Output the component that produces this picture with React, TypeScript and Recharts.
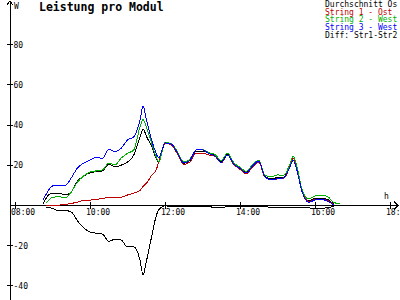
import { LineChart, Line, XAxis, YAxis, ReferenceLine, ReferenceDot } from 'recharts';

// sample times (HH:MM)
const times = [
  '08:45', '08:50', '09:00', '09:10', '09:20', '09:30', '09:40', '09:50',
  '10:00', '10:10', '10:20', '10:30', '10:40', '10:50', '11:00', '11:10',
  '11:20', '11:25', '11:30', '11:40', '11:45', '11:50', '12:00', '12:10',
  '12:20', '12:30', '12:40', '12:50', '13:00', '13:10', '13:20', '13:30',
  '13:40', '13:50', '14:00', '14:10', '14:20', '14:30', '14:40', '14:50',
  '15:00', '15:10', '15:20', '15:25', '15:30', '15:40', '15:50', '16:00',
  '16:10', '16:20', '16:30', '16:40',
];

// W per module
const avg = [
  0.7, 3.7, 6.2, 6.2, 5.2, 6.7, 12.2, 14.7, 16.2, 16.9, 17.2, 20.6, 19.2, 20.1, 21.6, 25.1,
  34.1, 38.1, 34.6, 28.4, 24.1, 21.6, 31.2, 30.6, 26.1, 21.0, 22.4, 27.1, 27.1, 25.9, 24.8, 21.7,
  25.5, 20.8, 18.5, 16.3, 19.7, 22.0, 14.4, 13.2, 13.9, 14.1, 19.8, 23.4, 19.7, 6.7, 2.3, 3.5,
  3.7, 3.0, 0.6, null,
];
const str1 = [
  null, 0.2, 0.2, 0.2, 0.5, 1.0, 1.7, 2.5, 2.7, 3.0, 3.5, 4.0, 4.2, 4.2, 5.2, 6.2,
  7.5, 9.5, 11.0, 15.5, 17.0, 21.6, 30.8, 30.2, 25.6, 20.4, 21.6, 26.1, 26.1, 25.1, 24.4, 21.2,
  25.1, 20.4, 18.0, 15.7, 19.2, 21.6, 14.0, 12.7, 13.2, 13.5, 19.5, 23.4, 19.7, 6.7, 2.0, 3.0,
  3.2, 2.5, 0.3, null,
];
const str2 = [
  null, 1.2, 4.0, 4.4, 3.7, 6.7, 11.7, 14.7, 16.7, 17.2, 17.7, 21.1, 20.1, 23.6, 25.9, 27.6,
  39.1, 42.8, 39.1, 29.6, 24.9, 21.6, 31.3, 30.8, 26.6, 21.6, 23.1, 27.6, 27.9, 26.3, 25.4, 22.4,
  26.1, 21.3, 19.0, 17.0, 20.2, 22.4, 15.0, 14.2, 15.2, 15.0, 20.7, 24.4, 20.7, 7.2, 3.2, 4.7,
  5.0, 4.5, 1.5, 0.8,
];
const str3 = [
  2.7, 5.7, 9.7, 10.2, 9.9, 13.7, 18.7, 21.1, 22.6, 23.9, 23.5, 27.9, 26.8, 28.5, 32.6, 34.1,
  42.5, 49.5, 43.0, 31.1, 26.6, 23.6, 31.1, 30.6, 26.1, 21.1, 22.6, 27.6, 27.6, 25.9, 24.6, 21.4,
  25.1, 20.6, 18.5, 16.2, 19.7, 22.1, 14.2, 12.7, 13.4, 13.7, 19.2, 22.4, 18.7, 6.2, 1.6, 2.7,
  3.0, 2.2, 0.2, null,
];
const diff = [
  null, -1.0, -1.4, -2.7, -2.5, -3.2, -7.7, -11.2, -13.2, -13.8, -14.2, -17.9, -16.7, -17.2, -20.6, -20.6,
  -27.1, -34.6, -28.1, -13.4, -6.2, -2.2, -0.2, -0.5, -0.5, -0.5, -0.5, -0.3, -0.3, -0.5, -1.0, -1.0,
  -0.5, -0.3, -0.3, -0.3, -0.3, -0.5, -0.5, -1.0, -1.0, -1.0, -1.0, -1.0, -0.8, -0.8, -1.2, -1.5,
  -1.5, -1.0, -0.5, null,
];

const xTicks = [8, 10, 12, 14, 16, 18];
const xTickLabels = ['08:00', '10:00', '12:00', '14:00', '16:00', '18:00'];
const yTicks = [80, 60, 40, 20, -20, -40];

const series = [
  { key: 'avg', name: 'Durchschnitt Os', color: '#000000' },
  { key: 'str1', name: 'String 1 - Ost', color: '#c00000' },
  { key: 'str2', name: 'String 2 - West', color: '#00b000' },
  { key: 'str3', name: 'String 3 - West', color: '#0000ff' },
  { key: 'diff', name: 'Diff: Str1-Str2', color: '#000000' },
];

const X_MIN = 8 - 5 / 37.5;
const X_MAX = 8 + 383 / 37.5;
const Y_MIN = -47;
const Y_MAX = 101.7;

const FONT = '"DejaVu Sans Mono", monospace';

const toHours = (s: string) => Number(s.slice(0, 2)) + Number(s.slice(3)) / 60;

const data = times.map((t, i) => ({
  t: toHours(t),
  avg: avg[i],
  str1: str1[i],
  str2: str2[i],
  str3: str3[i],
  diff: diff[i],
}));

const xTick = (label: string) => (p: any) => (
  <g>
    <line x1={p.cx} x2={p.cx} y1={p.cy - 3} y2={p.cy + 4} stroke="#000" />
    <text x={p.cx - 4} y={p.cy + 10} fontSize={8} fontFamily={FONT} fill="#000">{label}</text>
  </g>
);

const yTick = (label: string) => (p: any) => (
  <g>
    <line x1={p.cx - 3} x2={p.cx + 3} y1={p.cy} y2={p.cy} stroke="#000" />
    <text x={p.cx + 3.5} y={p.cy + 3} fontSize={8} fontFamily={FONT} fill="#000">{label}</text>
  </g>
);

const rightArrow = (p: any) => (
  <g>
    <path d={`M${p.cx - 4},${p.cy - 4} L${p.cx},${p.cy} L${p.cx - 4},${p.cy + 4}`} fill="none" stroke="#000" />
    <text x={p.cx - 14} y={p.cy - 6} fontSize={8} fontFamily={FONT} fill="#000">h</text>
  </g>
);

const upArrow = (p: any) => (
  <g>
    <path d={`M${p.cx - 3},${p.cy + 4} L${p.cx},${p.cy} L${p.cx + 3},${p.cy + 4}`} fill="none" stroke="#000" />
    <text x={p.cx + 4} y={p.cy + 8} fontSize={8} fontFamily={FONT} fill="#000">W</text>
  </g>
);

export default function App() {
  return (
    <div className="chart" style={{ position: 'absolute', left: 0, top: 0, width: 400, height: 300, background: '#fff' }}>
      <style>{`.chart svg path, .chart svg line { shape-rendering: crispEdges; }`}</style>
      <LineChart width={400} height={300} data={data} margin={{ top: 1, right: 2, bottom: 0, left: 10 }}>
        <XAxis dataKey="t" type="number" domain={[X_MIN, X_MAX]} allowDataOverflow hide />
        <YAxis type="number" domain={[Y_MIN, Y_MAX]} allowDataOverflow hide />
        <ReferenceLine y={0} stroke="#000" />
        <ReferenceLine x={X_MIN} stroke="#000" />
        {xTicks.map((h, i) => (
          <ReferenceDot key={'x' + h} x={h} y={0} r={0} ifOverflow="visible" shape={xTick(xTickLabels[i])} />
        ))}
        {yTicks.map((v) => (
          <ReferenceDot key={'y' + v} x={X_MIN} y={v} r={0} ifOverflow="visible" shape={yTick(String(v))} />
        ))}
        <ReferenceDot x={X_MAX} y={0} r={0} ifOverflow="visible" shape={rightArrow} />
        <ReferenceDot x={X_MIN} y={Y_MAX} r={0} ifOverflow="visible" shape={upArrow} />
        {series.map((s) => (
          <Line
            key={s.key}
            type="monotone"
            dataKey={s.key}
            name={s.name}
            stroke={s.color}
            strokeWidth={1}
            dot={false}
            activeDot={false}
            isAnimationActive={false}
          />
        ))}
      </LineChart>
      <svg width={400} height={300} style={{ position: 'absolute', left: 0, top: 0, pointerEvents: 'none' }}>
        <text x={39} y={11} fontSize={11.5} fontWeight="bold" fontFamily={FONT} fill="#000">Leistung pro Modul</text>
        {series.map((s, i) => (
          <text key={s.key} x={325} y={6.8 + i * 7.75} fontSize={8} fontFamily={FONT} fill={s.color}>{s.name}</text>
        ))}
      </svg>
    </div>
  );
}
